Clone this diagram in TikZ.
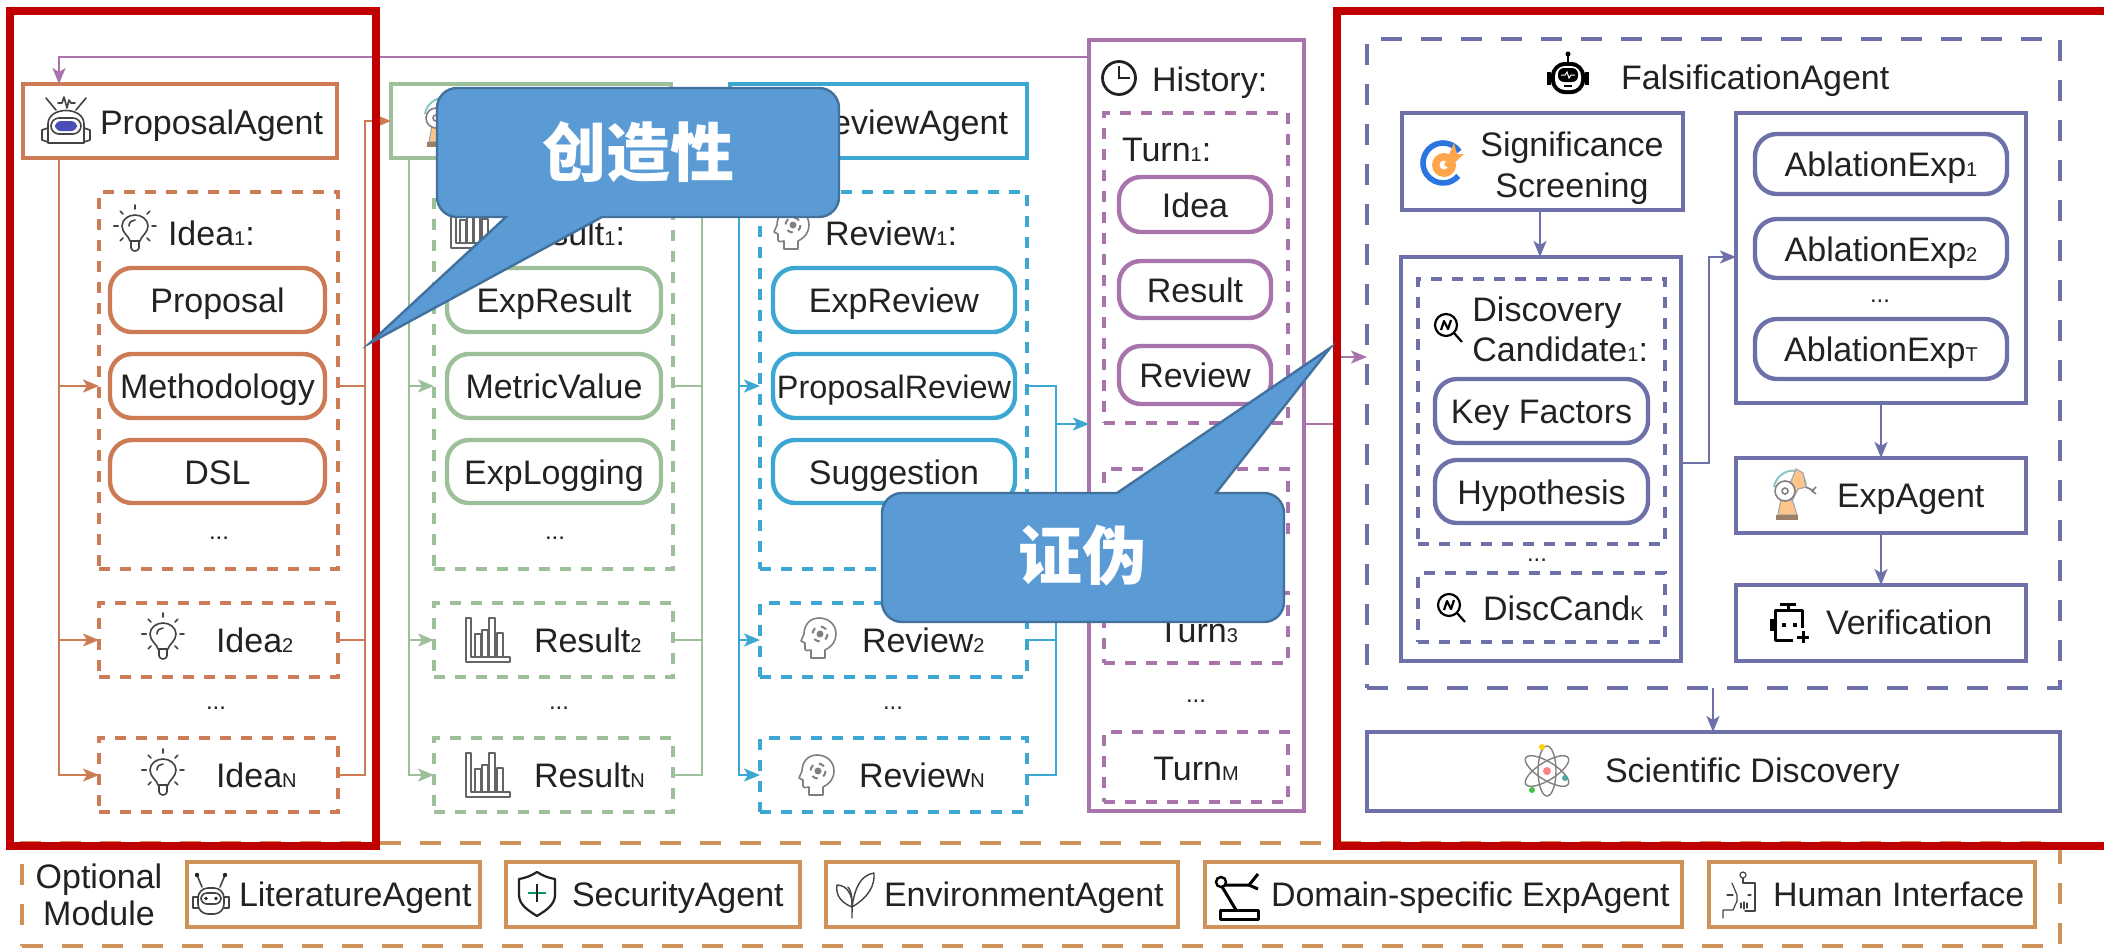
\documentclass[tikz,border=0pt]{standalone}
\usepackage{fontspec}
\setmainfont{Liberation Sans}
\newfontfamily\cjkfont{Noto Sans CJK SC}
\usetikzlibrary{arrows.meta}

\definecolor{ideacol}{HTML}{CC7B55}
\definecolor{resultcol}{HTML}{9DC09A}
\definecolor{reviewcol}{HTML}{3CA7D3}
\definecolor{historycol}{HTML}{A974AC}
\definecolor{falsicol}{HTML}{6E70AA}
\definecolor{modulecol}{HTML}{CF935A}
\definecolor{inkcol}{HTML}{222222}
\definecolor{calloutcol}{HTML}{5B9BD5}
\definecolor{calloutedge}{HTML}{41719C}
\definecolor{alertcol}{HTML}{C00000}

\tikzset{
    labeltext/.style={font=\fontsize{17}{20}\selectfont, text=inkcol, inner sep=0pt, outer sep=0pt,
        text height=14pt, text depth=1.5pt},
    agentbox/.style={draw=#1, line width=2pt, inner sep=0pt, outer sep=0pt, labeltext},
    itembox/.style={draw=#1, line width=2.2pt, rounded corners=11pt, labeltext},
    dashbox/.style={draw=#1, line width=2pt, inner sep=0pt, outer sep=0pt, dash pattern=on 5.5pt off 5pt},
    widedash/.style={draw=#1, line width=2pt, inner sep=0pt, outer sep=0pt, dash pattern=on 10.5pt off 9.5pt},
    link/.style={draw=#1, line width=1.2pt},
    linkarrow/.style={draw=#1, line width=1.2pt, -{Stealth[length=8pt,width=6.5pt,inset=2pt]}},
    dotstext/.style={font=\fontsize{12}{12}\selectfont, text=inkcol, anchor=base, inner sep=0pt},
    twolines/.style={font=\fontsize{17}{20}\selectfont, text=inkcol, inner sep=0pt, align=center},
    iconline/.style={draw=inkcol!85, line width=0.8pt, line cap=round, line join=round},
    iconthick/.style={draw=black, line width=1.5pt, line join=round}
}

\newcommand{\plate}[7]{
    \pgfmathsetmacro{\pw}{(#5-#3)*0.5}
    \pgfmathsetmacro{\ph}{(#6-#4)*0.5}
    \node[#1, minimum width=\pw pt, minimum height=\ph pt] (#2) at ({(#3+#5)/2},{(#4+#6)/2}) {#7};
}
\newcommand{\lab}[4]{
    \node[labeltext, anchor=west] (#1) at (#2,#3) {#4};
}
\newcommand{\sbt}[1]{{\fontsize{10}{10}\selectfont #1}}

% icons
\newcommand{\iconbulb}[2]{
    \begin{scope}[shift={(#1,#2)}]
        \draw[iconline] (-5,8) .. controls (-6,3) and (-13,0) .. (-13,-7) .. controls (-13,-14) and (-6,-18) .. (0,-18)
            .. controls (6,-18) and (13,-14) .. (13,-7) .. controls (13,0) and (6,3) .. (5,8) -- cycle;
        \draw[iconline] (-4,8) -- (-4,15) .. controls (-3,19) and (3,19) .. (4,15) -- (4,8);
        \draw[iconline] (-6,-7) .. controls (-6,-11) and (-3,-13) .. (0,-13);
        \foreach \a in {-180,-135,-90,-45,0,45,135,180}
            \draw[iconline] ({-0+cos(\a)*17},{-7+sin(\a)*17}) -- ({cos(\a)*21},{-7+sin(\a)*21});
    \end{scope}
}
\newcommand{\iconbars}[2]{
    \begin{scope}[shift={(#1,#2)}]
        \begin{scope}[iconline, draw=inkcol!70, line width=0.6pt]
            \draw (-22,-22) -- (-22,22) -- (22,22) -- (22,17) -- (-17,17) -- (-17,-22) -- cycle;
            \draw (-13,17) rectangle (-7,-6);
            \draw (-6,17) rectangle (0,-10);
            \draw (1,17) rectangle (7,-22);
            \draw (9,17) rectangle (15,-7);
        \end{scope}
    \end{scope}
}
\newcommand{\iconhead}[2]{
    \begin{scope}[shift={(#1,#2)}]
        \draw[iconline, draw=gray] (6,20) -- (6,12) .. controls (14,8) and (17,2) .. (17,-4) .. controls (17,-14) and (9,-20) .. (0,-20)
            .. controls (-10,-20) and (-15,-12) .. (-15,-4) -- (-18,3) -- (-14,5) -- (-14,11) .. controls (-14,13) and (-10,13) .. (-8,12) -- (-8,20) -- cycle;
        \draw[gray, line width=1pt, dashed] (1,-4) circle (7.5);
        \fill[gray] (1,-4) circle (3.5);
    \end{scope}
}
\newcommand{\iconarm}[2]{
    \begin{scope}[shift={(#1,#2)}]
        \draw[teal!45, line width=1pt] (-20,-8) .. controls (-18,-24) and (8,-34) .. (12,-10);
        \fill[orange!45, draw=gray!70, line width=0.6pt] (-16,20) -- (-13,4) -- (-2,4) -- (3,20) -- cycle;
        \fill[orange!45, draw=gray!70, line width=0.6pt] (-6,-6) -- (2,-26) -- (9,-22) -- (12,-8) -- (4,-6) -- (-2,6) -- cycle;
        \draw[gray, line width=0.8pt] (12,-8) -- (20,-4);
        \draw[gray, line width=0.8pt] (22,-8) -- (18,-4) -- (22,-1);
        \fill[white, draw=gray, line width=0.8pt] (-9,-4) circle (10);
        \fill[white, draw=gray, line width=0.8pt] (-9,-4) circle (3);
        \fill[gray!80!orange] (-18,20) rectangle (4,25);
    \end{scope}
}
\newcommand{\iconlens}[2]{
    \begin{scope}[shift={(#1,#2)}]
        \draw[iconthick, line width=1.1pt] (-2,-2) circle (11);
        \draw[iconthick, line width=1.1pt] (6,6) -- (14,15);
        \draw[iconthick, line width=1.1pt] (-7,3) -- (-4,-6) -- (0,2) -- (3,-7);
    \end{scope}
}

\begin{document}
\begin{tikzpicture}[x=0.5pt,y=-0.5pt]
    \useasboundingbox (0,0) rectangle (2104,948);

    %% Proposal column
    \plate{agentbox=ideacol}{propagent}{23}{84}{337}{158}{}
    \lab{proplabel}{100}{122}{ProposalAgent}
    \begin{scope}[shift={(66,120)}]
        \draw[iconline] (-18,23) -- (-18,4) .. controls (-18,-14) and (18,-14) .. (18,4) -- (18,23) -- cycle;
        \draw[iconline] (-18,8) -- (-24,10) -- (-24,20) -- (-18,22);
        \draw[iconline] (18,8) -- (24,10) -- (24,20) -- (18,22);
        \draw[iconline, rounded corners=4pt] (-15,-2) rectangle (15,14);
        \fill[blue!60!black!70, rounded corners=3pt] (-11,1) rectangle (11,11);
        \draw[iconline] (-10,-10) -- (-20,-22) (10,-10) -- (20,-22);
        \draw[iconline] (-8,-17) -- (-4,-17) -- (-2,-23) -- (1,-12) -- (3,-20) -- (5,-17) -- (9,-17);
    \end{scope}

    \plate{dashbox=ideacol}{ideaone}{99}{192}{338}{569}{}
    \iconbulb{135}{233}
    \lab{idealabel}{168}{233}{Idea\sbt{1}:}
    \plate{itembox=ideacol}{proposal}{110}{268}{325}{332}{Proposal}
    \plate{itembox=ideacol}{methodology}{110}{354}{325}{418}{Methodology}
    \plate{itembox=ideacol}{dsl}{110}{440}{325}{503}{DSL}
    \node[dotstext] (ideadots) at (219,539) {...};
    \plate{dashbox=ideacol}{ideatwo}{99}{603}{338}{677}{}
    \iconbulb{163}{641}
    \lab{ideatwolabel}{216}{640}{Idea\sbt{2}}
    \node[dotstext] (ideagap) at (216,709) {...};
    \plate{dashbox=ideacol}{idealast}{99}{738}{338}{812}{}
    \iconbulb{163}{777}
    \lab{idealastlabel}{216}{775}{Idea\sbt{N}}

    \coordinate (ideain) at (59,158);
    \coordinate (ideaout) at (365,121);
    \draw[linkarrow=ideacol] (ideain) |- (methodology -| ideaone.west);
    \draw[linkarrow=ideacol] (ideain) |- (ideatwo.west);
    \draw[linkarrow=ideacol] (ideain) |- (idealast.west);
    \draw[link=ideacol] (methodology -| ideaone.east) -- (methodology -| ideaout);
    \draw[link=ideacol] (ideatwo.east) -- (ideatwo.east -| ideaout);

    %% Result column
    \plate{agentbox=resultcol}{resagent}{391}{84}{671}{158}{}
    \iconarm{445}{122}
    \draw[linkarrow=ideacol] (idealast.east) -| (ideaout) -- (ideaout -| resagent.west);

    \plate{dashbox=resultcol}{resone}{434}{192}{673}{569}{}
    \iconbars{473}{226}
    \lab{reslabel}{508}{233}{Result\sbt{1}:}
    \plate{itembox=resultcol}{expresult}{447}{268}{661}{332}{ExpResult}
    \plate{itembox=resultcol}{metric}{447}{354}{661}{418}{MetricValue}
    \plate{itembox=resultcol}{logging}{447}{440}{661}{503}{ExpLogging}
    \node[dotstext] (resdots) at (555,539) {...};
    \plate{dashbox=resultcol}{restwo}{434}{603}{673}{677}{}
    \iconbars{488}{640}
    \lab{restwolabel}{534}{640}{Result\sbt{2}}
    \node[dotstext] (resgap) at (559,709) {...};
    \plate{dashbox=resultcol}{reslast}{434}{738}{673}{812}{}
    \iconbars{488}{775}
    \lab{reslastlabel}{534}{775}{Result\sbt{N}}

    \coordinate (resin) at (409,158);
    \coordinate (resout) at (702,121);
    \draw[linkarrow=resultcol] (resin) |- (metric -| resone.west);
    \draw[linkarrow=resultcol] (resin) |- (restwo.west);
    \draw[linkarrow=resultcol] (resin) |- (reslast.west);
    \draw[link=resultcol] (metric -| resone.east) -- (metric -| resout);
    \draw[link=resultcol] (restwo.east) -- (restwo.east -| resout);

    %% Review column
    \plate{agentbox=reviewcol}{revagent}{730}{84}{1027}{158}{}
    \node[labeltext, anchor=east] (revagentlabel) at (1008,122) {ReviewAgent};
    \draw[linkarrow=resultcol] (reslast.east) -| (resout) -- (resout -| revagent.west);

    \plate{dashbox=reviewcol}{revone}{760}{192}{1027}{569}{}
    \iconhead{792}{229}
    \lab{revlabel}{825}{233}{Review\sbt{1}:}
    \plate{itembox=reviewcol}{expreview}{773}{268}{1015}{332}{ExpReview}
    \plate{itembox=reviewcol}{propreview}{773}{354}{1015}{418}{\fontsize{16.2}{20}\selectfont ProposalReview}
    \plate{itembox=reviewcol}{suggestion}{773}{440}{1015}{503}{Suggestion}
    \plate{dashbox=reviewcol}{revtwo}{760}{603}{1027}{677}{}
    \iconhead{819}{638}
    \lab{revtwolabel}{862}{640}{Review\sbt{2}}
    \node[dotstext] (revgap) at (893,709) {...};
    \plate{dashbox=reviewcol}{revlast}{760}{738}{1027}{812}{}
    \iconhead{817}{775}
    \lab{revlastlabel}{859}{775}{Review\sbt{N}}

    \coordinate (revin) at (739,158);
    \coordinate (revout) at (1056,424);
    \draw[linkarrow=reviewcol] (revin) |- (propreview -| revone.west);
    \draw[linkarrow=reviewcol] (revin) |- (revtwo.west);
    \draw[linkarrow=reviewcol] (revin) |- (revlast.west);
    \draw[link=reviewcol] (propreview -| revone.east) -| (revlast.east -| revout) -- (revlast.east);
    \draw[link=reviewcol] (revtwo.east) -- (revtwo.east -| revout);

    %% History column
    \plate{agentbox=historycol}{history}{1089}{40}{1304}{811}{}
    \draw[draw=inkcol, line width=1.4pt] (1119,78) circle (16.5);
    \draw[draw=inkcol, line width=1.4pt] (1119,66) -- (1119,78) -- (1130,78);
    \lab{historylabel}{1152}{79}{History:}
    \plate{dashbox=historycol}{turnone}{1104}{113}{1288}{423}{}
    \lab{turnlabel}{1122}{149}{Turn\sbt{1}:}
    \plate{itembox=historycol}{turnidea}{1119}{177}{1271}{232}{Idea}
    \plate{itembox=historycol}{turnresult}{1119}{261}{1271}{318}{Result}
    \plate{itembox=historycol}{turnreview}{1119}{346}{1271}{404}{Review}
    \plate{dashbox=historycol}{turntwo}{1104}{469}{1288}{539}{}
    \plate{dashbox=historycol}{turnthree}{1104}{593}{1288}{663}{}
    \node[labeltext] (turnthreelabel) at (1198,630) {Turn\sbt{3}};
    \node[dotstext] (turngap) at (1196,702) {...};
    \plate{dashbox=historycol}{turnlast}{1104}{732}{1288}{802}{}
    \node[labeltext] (turnlastlabel) at (1196,768) {Turn\sbt{M}};

    \draw[linkarrow=reviewcol] (revout) -- (revout -| history.west);

    %% Falsification part
    \plate{widedash=falsicol}{falsi}{1367}{39}{2060}{688}{}
    \lab{falsilabel}{1621}{77}{FalsificationAgent}
    \begin{scope}[shift={(1568,75)}]
        \fill[black, rounded corners=7pt] (-17,-13) rectangle (17,19);
        \fill[white, rounded corners=5pt] (-13,-9) rectangle (13,15);
        \fill[black, rounded corners=3pt] (-10,-7) rectangle (10,7);
        \draw[white, line width=0.5pt] (-7,0) -- (-3,0) -- (-1,-3) -- (1,3) -- (3,0) -- (7,0);
        \fill[black] (-4,10) rectangle (4,12);
        \draw[black, line width=1.2pt] (0,-13) -- (0,-20);
        \fill[black] (0,-21) circle (2.5);
        \fill[black] (-21,-3) rectangle (-17,10);
        \fill[black] (17,-3) rectangle (21,10);
    \end{scope}

    \plate{agentbox=falsicol}{screening}{1402}{113}{1683}{210}{}
    \node[twolines, font=\fontsize{17}{20.5}\selectfont] (screenlabel) at (1572,168) {Significance\\Screening};
    \begin{scope}[shift={(1443,163)}]
        \draw[reviewcol!70!blue, line width=2.8pt] (-35:20) arc (-35:-320:20);
        \fill[orange!70] (1,2) circle (12);
        \fill[white] (1,2) circle (4.5);
        \fill[orange!70] (1,2) -- (4,-4) -- (11,-20) -- (14,-9) -- (21,-9) -- (6,5) -- cycle;
    \end{scope}

    \plate{agentbox=falsicol}{candidates}{1401}{257}{1681}{661}{}
    \plate{dashbox=falsicol}{candone}{1418}{279}{1665}{544}{}
    \iconlens{1448}{327}
    \node[twolines, anchor=west, align=left, font=\fontsize{17}{20}\selectfont] (candlabel) at (1472,329) {Discovery\\Candidate\sbt{1}:};
    \plate{itembox=falsicol}{keyfactors}{1435}{379}{1648}{443}{Key Factors}
    \plate{itembox=falsicol}{hypothesis}{1435}{460}{1648}{523}{Hypothesis}
    \node[dotstext] (canddots) at (1537,561) {...};
    \plate{dashbox=falsicol}{candlast}{1418}{573}{1665}{642}{}
    \iconlens{1451}{607}
    \lab{candlastlabel}{1483}{608}{DiscCand\sbt{K}}

    \plate{agentbox=falsicol}{ablation}{1736}{113}{2026}{403}{}
    \plate{itembox=falsicol}{ablone}{1755}{134}{2007}{194}{AblationExp\sbt{1}}
    \plate{itembox=falsicol}{abltwo}{1755}{219}{2007}{278}{AblationExp\sbt{2}}
    \node[dotstext] (abldots) at (1880,302) {...};
    \plate{itembox=falsicol}{abllast}{1755}{319}{2007}{379}{AblationExp\sbt{T}}

    \plate{agentbox=falsicol}{expagent}{1736}{458}{2026}{533}{}
    \iconarm{1794}{495}
    \lab{expagentlabel}{1837}{495}{ExpAgent}
    \plate{agentbox=falsicol}{verification}{1736}{585}{2026}{661}{}
    \lab{verificationlabel}{1826}{622}{Verification}
    \begin{scope}[shift={(1788,623)}]
        \draw[iconthick] (14,5) -- (14,-13) -- (-13,-13) -- (-13,17) -- (5,17);
        \draw[iconthick] (-8,-19) -- (8,-19) (0,-19) -- (0,-13);
        \fill[black] (-18,-4) rectangle (-14,8);
        \fill[black] (-6,0) rectangle (-2,4);
        \fill[black] (5,0) rectangle (9,4);
        \draw[iconthick] (9,14) -- (21,14) (15,8) -- (15,20);
    \end{scope}

    \plate{agentbox=falsicol}{discovery}{1367}{732}{2060}{811}{}
    \lab{discoverylabel}{1605}{770}{Scientific Discovery}
    \begin{scope}[shift={(1547,771)}]
        \draw[iconline, draw=gray, line width=0.7pt] (0,0) ellipse [x radius=9, y radius=25];
        \foreach \r in {58,-58} {
            \draw[iconline, draw=gray, line width=0.7pt, rotate=\r] (0,0) ellipse [x radius=9, y radius=25];
        }
        \fill[red!50!white] (0,0) circle (4);
        \fill[yellow!70!orange] (-5,-24) circle (3);
        \fill[teal!70] (18,7) circle (3);
        \fill[green!50!gray] (-15,19) circle (3);
    \end{scope}

    % Falsification links
    \coordinate (histback) at (1337,357);
    \draw[linkarrow=historycol] (history.east |- revout) -| (histback) -- (histback -| falsi.west);
    \draw[linkarrow=historycol] (history.west |- 0,57) -| (propagent.north -| ideain);
    \draw[linkarrow=falsicol] (screening.south -| 1540,0) -- (candidates.north -| 1540,0);
    \draw[linkarrow=falsicol] (candidates.east |- 0,463) -| (1709,257) -- (ablation.west |- 0,257);
    \draw[linkarrow=falsicol] (ablation) -- (expagent);
    \draw[linkarrow=falsicol] (expagent) -- (verification);
    \draw[linkarrow=falsicol] (falsi.south -| 1713,0) -- (discovery.north -| 1713,0);

    %% Optional modules
    \plate{widedash=modulecol}{optional}{22}{843}{2060}{946}{}
    \node[twolines, font=\fontsize{17}{18.5}\selectfont] (optlabel) at (99,895) {Optional\\Module};
    \plate{agentbox=modulecol}{literature}{187}{862}{480}{927}{}
    \lab{literaturelabel}{239}{894}{LiteratureAgent}
    \begin{scope}[shift={(211,895)}]
        \draw[iconline, rounded corners=5pt] (-13,-7) rectangle (13,19);
        \draw[iconline, rounded corners=3pt] (-10,-2) rectangle (10,9);
        \fill[inkcol] (-5,3.5) circle (1.8);
        \fill[inkcol] (5,3.5) circle (1.8);
        \draw[iconline] (-9,-8) -- (-14,-20) (9,-8) -- (14,-20);
        \fill[inkcol] (-14,-20) circle (2.2);
        \fill[inkcol] (14,-20) circle (2.2);
        \draw[iconline] (-13,2) -- (-18,2) -- (-18,13) -- (-13,13);
        \draw[iconline] (13,2) -- (18,2) -- (18,13) -- (13,13);
    \end{scope}
    \plate{agentbox=modulecol}{security}{506}{862}{800}{927}{}
    \lab{securitylabel}{572}{894}{SecurityAgent}
    \begin{scope}[shift={(537,893)}]
        \draw[iconline, draw=inkcol, line width=1.1pt] (0,-21) .. controls (-6,-17) and (-12,-15) .. (-18,-14) -- (-18,2) .. controls (-18,12) and (-8,18) .. (0,23)
            .. controls (8,18) and (18,12) .. (18,2) -- (18,-14) .. controls (12,-15) and (6,-17) .. (0,-21) -- cycle;
        \draw[teal!80!green, line width=1.3pt] (-9,0) -- (9,0);
        \draw[inkcol, line width=1.1pt] (0,-9) -- (0,9);
    \end{scope}
    \plate{agentbox=modulecol}{environment}{826}{862}{1178}{927}{}
    \lab{environmentlabel}{884}{894}{EnvironmentAgent}
    \begin{scope}[shift={(855,893)}]
        \draw[iconline, line width=0.7pt] (-3,25) .. controls (-3,10) and (-2,0) .. (-7,-6);
        \draw[iconline, line width=0.7pt] (-3,14) .. controls (-18,8) and (-19,-2) .. (-18,-8) .. controls (-8,-8) and (-2,2) .. (-3,14);
        \draw[iconline, line width=0.7pt] (-3,14) .. controls (0,-6) and (6,-18) .. (19,-20) .. controls (20,-8) and (14,4) .. (-3,14);
    \end{scope}
    \plate{agentbox=modulecol}{domain}{1205}{862}{1682}{927}{}
    \lab{domainlabel}{1271}{894}{Domain-specific ExpAgent}
    \begin{scope}[shift={(1239,895)}]
        \draw[iconthick] (-19,15) rectangle (19,24);
        \draw[iconthick] (-3,15) -- (-18,-10) -- (10,-10) -- (19,-21);
        \draw[iconthick] (10,-10) -- (19,-6);
        \fill[white, draw=black, line width=1.2pt] (-18,-13) circle (5);
    \end{scope}
    \plate{agentbox=modulecol}{human}{1709}{862}{2035}{927}{}
    \lab{humanlabel}{1773}{894}{Human Interface}
    \begin{scope}[shift={(1739,895)}]
        \draw[iconline, line width=0.6pt] (4,-20) circle (3);
        \draw[iconline, line width=0.6pt] (4,-17) -- (4,-12) -- (16,-12) -- (16,16) -- (6,16);
        \draw[iconline, line width=0.6pt] (-7,-12) -- (-2,0) -- (-2,6);
        \draw[iconline, line width=0.6pt] (-2,6) -- (-6,15) -- (-16,15) -- (-16,23);
        \draw[iconline, line width=0.6pt] (-12,0) -- (-6,0) (9,0) -- (12,0);
        \draw[iconline, line width=0.6pt] (2,8) -- (2,13) (5,7) -- (5,14) (8,8) -- (8,13);
    \end{scope}

    %% Red frames
    \draw[alertcol, line width=4pt, line join=miter] (10,11) rectangle (376,846);
    \draw[alertcol, line width=4pt, line join=miter] (2104,11) -- (1337,11) -- (1337,846) -- (2104,846);

    %% Callouts
    \draw[fill=calloutcol, draw=calloutedge, line width=1.2pt] (506,217) -- (457,217) arc (90:180:20) -- (437,108) arc (180:270:20)
        -- (819,88) arc (270:360:20) -- (839,197) arc (0:90:20) -- (602,217) -- (370,343) -- cycle;
    \node[inner sep=0pt, text=white, font=\cjkfont\bfseries\fontsize{32}{32}\selectfont] (creativity) at (638,152) {创造性};
    \draw[fill=calloutcol, draw=calloutedge, line width=1.2pt] (1117,493) -- (902,493) arc (270:180:20) -- (882,602) arc (180:90:20)
        -- (1264,622) arc (90:0:20) -- (1284,513) arc (0:-90:20) -- (1216,493) -- (1330,348) -- cycle;
    \node[inner sep=0pt, text=white, font=\cjkfont\bfseries\fontsize{32}{32}\selectfont] (falsified) at (1082,556) {证伪};

\end{tikzpicture}
\end{document}
